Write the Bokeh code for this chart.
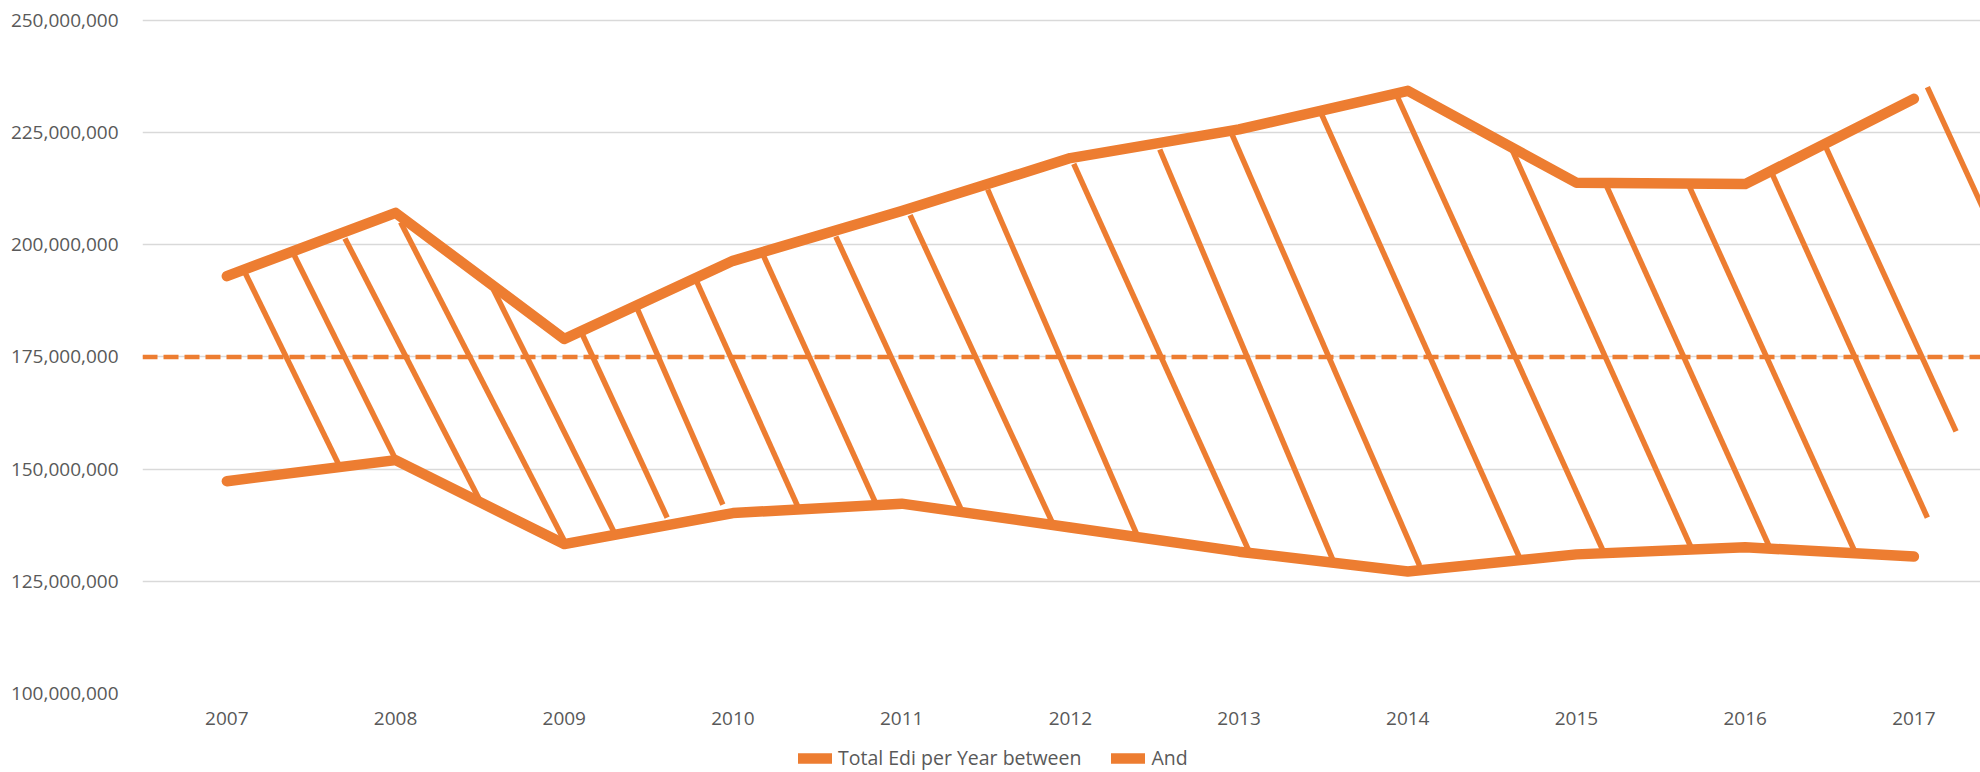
from bokeh.plotting import figure
from bokeh.layouts import column
from bokeh.models import Span, Legend, LegendItem, FixedTicker, NumeralTickFormatter, ColumnDataSource
from bokeh.embed import file_html
from bokeh.resources import INLINE

# ---------------- data ----------------
years = [2007, 2008, 2009, 2010, 2011, 2012, 2013, 2014, 2015, 2016, 2017]
year_labels = ["2007", "2008", "2009", "2010", "2011", "2012", "2013", "2014", "2015", "2016", "2017"]

# values in millions
upper_m = [193.0, 207.1, 179.0, 196.4, 207.5, 219.3, 225.7, 234.3, 213.8, 213.5, 232.5]
lower_m = [147.3, 152.0, 133.3, 140.2, 142.3, 137.0, 131.6, 127.2, 131.0, 132.6, 130.5]
reference_m = 175.0
y_ticks_m = [100, 125, 150, 175, 200, 225, 250]

series_names = ["Total Edi per Year between", "And"]

# hatch segments between the two series (x in years, y in millions)
hatch_x0 = [2007.11, 2007.40, 2007.70, 2008.03, 2008.58, 2009.10, 2009.43, 2009.78, 2010.18, 2010.61, 2011.05, 2011.51,
            2012.02, 2012.53, 2012.96, 2013.49, 2013.94, 2014.62, 2015.17, 2015.66, 2016.15, 2016.47, 2017.08]
hatch_y0_m = [193.6, 197.6, 201.4, 205.0, 190.0, 180.6, 186.0, 192.2, 197.6, 201.8, 206.6, 212.3,
              218.0, 221.2, 224.4, 229.0, 232.8, 221.0, 213.8, 213.7, 216.6, 222.4, 235.1]
hatch_x1 = [2007.67, 2008.00, 2008.51, 2009.01, 2009.30, 2009.61, 2009.94, 2010.39, 2010.85, 2011.36, 2011.90, 2012.40,
            2013.06, 2013.56, 2014.07, 2014.66, 2015.16, 2015.68, 2016.14, 2016.65, 2017.08, 2017.25, 2017.68]
hatch_y1_m = [150.5, 152.2, 142.3, 133.3, 135.6, 139.2, 142.1, 141.2, 142.1, 140.4, 137.5, 134.9,
              131.6, 129.4, 128.5, 130.5, 131.6, 132.5, 133.0, 131.6, 139.2, 158.4, 186.0]

# ---------------- styling ----------------
ORANGE = "#ED7D31"
GRID = "#D9D9D9"
TEXT = "#595959"
FONT = "Open Sans"

M = 1_000_000
src = ColumnDataSource(dict(x=years,
                            upper=[v * M for v in upper_m],
                            lower=[v * M for v in lower_m]))
hsrc = ColumnDataSource(dict(x0=hatch_x0, y0=[v * M for v in hatch_y0_m],
                             x1=hatch_x1, y1=[v * M for v in hatch_y1_m]))

p = figure(width=1980, height=742,
           x_range=(2006.5, 2017.395), y_range=(y_ticks_m[0] * M, 250.4 * M),
           output_backend="svg", toolbar_location=None,
           min_border_left=142, min_border_top=18, min_border_right=0, min_border_bottom=49)
p.outline_line_color = None
p.background_fill_color = "white"
p.border_fill_color = "white"

# axes
p.xaxis.ticker = FixedTicker(ticks=years)
p.xaxis.major_label_overrides = {y: s for y, s in zip(years, year_labels)}
p.xaxis.axis_line_color = None
p.xaxis.major_tick_line_color = None
p.xaxis.minor_tick_line_color = None
p.xaxis.major_tick_out = 0
p.xaxis.major_label_standoff = 18
p.xaxis.major_label_text_font = FONT
p.xaxis.major_label_text_font_size = "19px"
p.xaxis.major_label_text_color = TEXT

p.yaxis.ticker = FixedTicker(ticks=[v * M for v in y_ticks_m])
p.yaxis.formatter = NumeralTickFormatter(format="0,0")
p.yaxis.axis_line_color = None
p.yaxis.major_tick_line_color = None
p.yaxis.minor_tick_line_color = None
p.yaxis.major_tick_out = 0
p.yaxis.major_label_standoff = 24
p.yaxis.major_label_text_font = FONT
p.yaxis.major_label_text_font_size = "19px"
p.yaxis.major_label_text_color = TEXT

p.xgrid.grid_line_color = None
p.ygrid.grid_line_color = GRID
p.ygrid.grid_line_width = 1.5

# hatch lines
p.segment(x0="x0", y0="y0", x1="x1", y1="y1", source=hsrc,
          line_color=ORANGE, line_width=5.5, line_cap="butt")

# main series
line_style = dict(line_color=ORANGE, line_width=10.5, line_cap="round", line_join="round")
p.line("x", "upper", source=src, **line_style)
p.line("x", "lower", source=src, **line_style)

# reference dashed line
p.add_layout(Span(location=reference_m * M, dimension="width", line_color=ORANGE,
                  line_width=4.5, line_dash="15 6"))

# ---------------- legend strip below the chart ----------------
leg = figure(width=1980, height=30, x_range=(0, 1), y_range=(0, 1),
             output_backend="svg", toolbar_location=None,
             x_axis_location=None, y_axis_location=None,
             min_border=0, min_border_left=0, min_border_right=0,
             min_border_top=0, min_border_bottom=0)
leg.outline_line_color = None
leg.xgrid.grid_line_color = None
leg.ygrid.grid_line_color = None
leg.background_fill_color = "white"
leg.border_fill_color = "white"
# same series, drawn with the same style (outside this strip's visible range)
lr_up = leg.line("x", "upper", source=src, **line_style)
lr_lo = leg.line("x", "lower", source=src, **line_style)

legend = Legend(items=[LegendItem(label=series_names[0], renderers=[lr_up]),
                       LegendItem(label=series_names[1], renderers=[lr_lo])],
                orientation="horizontal", location=(656, 1),
                label_text_font=FONT, label_text_font_size="19.5px", label_text_color=TEXT,
                glyph_width=34, glyph_height=18, label_standoff=6, spacing=30,
                label_height=19,
                padding=0, margin=0, border_line_color=None, background_fill_alpha=0)
leg.add_layout(legend)

layout = column(p, leg, spacing=0)
open("out.html", "w").write(file_html(layout, INLINE))
